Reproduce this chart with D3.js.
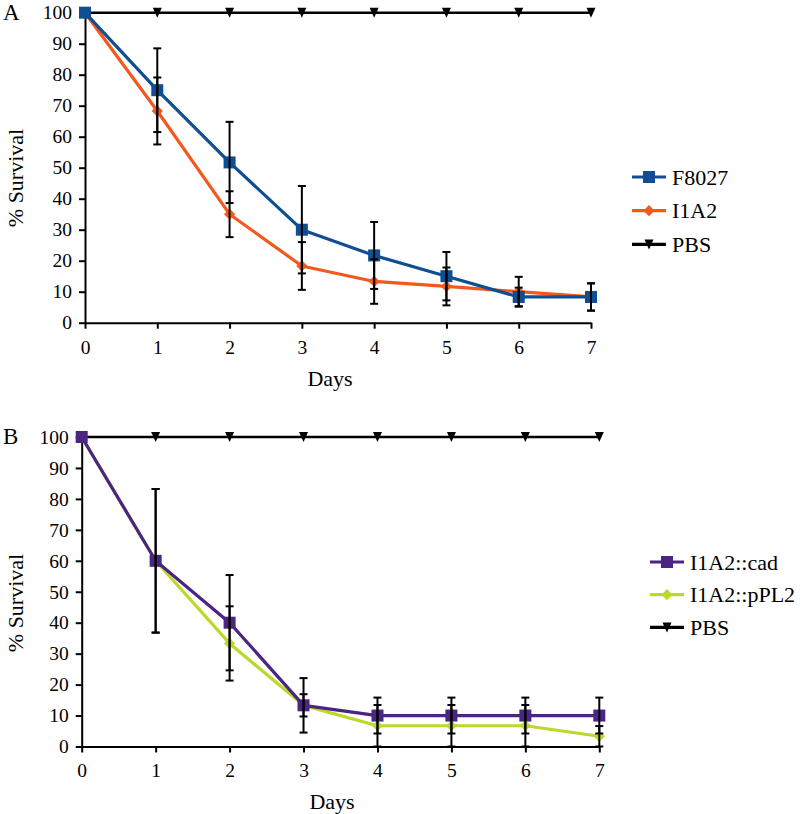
<!DOCTYPE html>
<html><head><meta charset="utf-8">
<script src="https://cdn.jsdelivr.net/npm/d3@7"></script>
<style>body{margin:0;background:#fff}svg{display:block}</style>
</head><body>
<svg id="c" width="800" height="814"></svg>
<script>
// ---- data ----
const days = [0,1,2,3,4,5,6,7];
const yTicks = [0,10,20,30,40,50,60,70,80,90,100];

// Panel A
const aNames = ["F8027","I1A2","PBS"];
const aF8027 = [100,75,51.7,30,21.7,15,8.3,8.3];
const aF8027Err = [0,13.5,13.1,14.1,10.8,7.8,3.0,4.4];
const aI1A2 = [100,68.3,35,18.3,13.3,11.7,10,8.3];
const aI1A2Err = [0,10.8,7.4,7.7,7.2,6.1,4.8,4.4];
const aPBS = [100,100,100,100,100,100,100,100];

// Panel B
const bNames = ["I1A2::cad","I1A2::pPL2","PBS"];
const bCad = [100,60,40,13.3,10,10,10,10];
const bCadErr = [0,23.2,15.4,8.8,5.8,5.8,5.8,5.8];
const bPPL2 = [100,60,33.3,13.3,6.7,6.7,6.7,3.3];
const bPPL2Err = [0,23.2,12,3.6,6.7,6.7,6.7,3.3];
const bPBS = [100,100,100,100,100,100,100,100];

// ---- drawing ----
const svg = d3.select("#c");
const FONT = "Liberation Serif";

function marker(g, type, x, y, color){
  if(type==="square"){
    g.append("rect").attr("x",x-6).attr("y",y-6).attr("width",12).attr("height",12).attr("fill",color);
  } else if(type==="diamond"){
    g.append("path").attr("d",d3.symbol().type(d3.symbolDiamond2).size(80)()).attr("transform",`translate(${x},${y})`).attr("fill",color);
  } else if(type==="tri"){
    g.append("path").attr("d",`M${x-4.5},${y-5}L${x+4.5},${y-5}L${x},${y+5}Z`).attr("fill",color);
  }
}

function txt(sel, size){
  return sel.style("font-family",FONT).style("font-size",size+"px").attr("fill","#000");
}

function panel(opt){
  const x = d3.scaleLinear().domain([0,7]).range(opt.xr);
  const y = d3.scaleLinear().domain([0,100]).range(opt.yr);
  const g = svg.append("g");
  // axes
  const xa = g.append("g").attr("transform",`translate(0,${y(0)})`)
    .call(d3.axisBottom(x).tickValues(days).tickSizeInner(6).tickSizeOuter(0).tickPadding(11).tickFormat(d3.format("d")));
  const ya = g.append("g").attr("transform",`translate(${x(0)},0)`)
    .call(d3.axisLeft(y).tickValues(yTicks).tickSizeInner(6).tickSizeOuter(0).tickPadding(7).tickFormat(d3.format("d")));
  [xa,ya].forEach(a=>{
    a.attr("font-family",FONT).attr("font-size",19.5);
    a.selectAll("path,line").attr("stroke","#000").attr("stroke-width",2);
    txt(a.selectAll("text"),19.5);
  });
  // titles
  txt(g.append("text").attr("x",opt.daysX).attr("y",opt.daysY).attr("text-anchor","middle").attr("dominant-baseline","central"),22).text("Days");
  txt(g.append("text").attr("transform",`translate(15,${opt.ytY}) rotate(-90)`).attr("text-anchor","middle").attr("dominant-baseline","central"),22).text("% Survival");
  txt(g.append("text").attr("x",3).attr("y",opt.letterY),23).text(opt.letter);

  const line = d3.line().x((d,i)=>x(days[i])).y(d=>y(d));
  // PBS first
  g.append("path").attr("d",line(opt.pbs)).attr("fill","none").attr("stroke","#000").attr("stroke-width",2.6);
  opt.pbs.forEach((v,i)=>marker(g,"tri",x(days[i]),y(v),"#000"));
  // series (bottom first)
  opt.series.forEach(s=>{
    g.append("path").attr("d",line(s.vals)).attr("fill","none").attr("stroke",s.color).attr("stroke-width",3.2).attr("stroke-linejoin","round");
    s.vals.forEach((v,i)=>marker(g,s.shape,x(days[i]),y(v),s.color));
  });
  // error bars on top
  opt.series.forEach(s=>{
    s.vals.forEach((v,i)=>{
      const e = s.err[i]; if(!e) return;
      const cx = x(days[i]), t = y(Math.min(100,v+e)), b = y(Math.max(0,v-e));
      g.append("line").attr("x1",cx).attr("x2",cx).attr("y1",t).attr("y2",b).attr("stroke","#000").attr("stroke-width",2);
      [t,b].forEach(yy=>g.append("line").attr("x1",cx-4).attr("x2",cx+4).attr("y1",yy).attr("y2",yy).attr("stroke","#000").attr("stroke-width",2));
    });
  });
  // legend
  opt.legend.forEach((it,k)=>{
    const ly = opt.legY + k*opt.legStep;
    g.append("line").attr("x1",opt.legX).attr("x2",opt.legX+34).attr("y1",ly).attr("y2",ly).attr("stroke",it.color).attr("stroke-width",3.2);
    marker(g,it.shape,opt.legX+17,ly,it.color);
    txt(g.append("text").attr("x",opt.legX+40).attr("y",ly).attr("dominant-baseline","central"),22).text(it.name);
  });
}

const cBlue = "#0f4e92", cOrange = "#f4581f", cPurple = "#4b2582", cLime = "#bcd82a";

panel({
  xr:[85,591], yr:[322.7,12.7], daysX:330, daysY:378, ytY:178, letter:"A", letterY:20,
  pbs:aPBS,
  series:[
    {vals:aI1A2, err:aI1A2Err, color:cOrange, shape:"diamond"},
    {vals:aF8027, err:aF8027Err, color:cBlue, shape:"square"}
  ],
  legend:[
    {name:aNames[0], color:cBlue, shape:"square"},
    {name:aNames[1], color:cOrange, shape:"diamond"},
    {name:aNames[2], color:"#000", shape:"tri"}
  ],
  legX:632, legY:177, legStep:33.7
});

panel({
  xr:[81.7,599.3], yr:[746.5,437], daysX:332, daysY:801, ytY:603, letter:"B", letterY:444,
  pbs:bPBS,
  series:[
    {vals:bPPL2, err:bPPL2Err, color:cLime, shape:"diamond"},
    {vals:bCad, err:bCadErr, color:cPurple, shape:"square"}
  ],
  legend:[
    {name:bNames[0], color:cPurple, shape:"square"},
    {name:bNames[1], color:cLime, shape:"diamond"},
    {name:bNames[2], color:"#000", shape:"tri"}
  ],
  legX:650, legY:562, legStep:32.7
});
</script>
</body></html>
